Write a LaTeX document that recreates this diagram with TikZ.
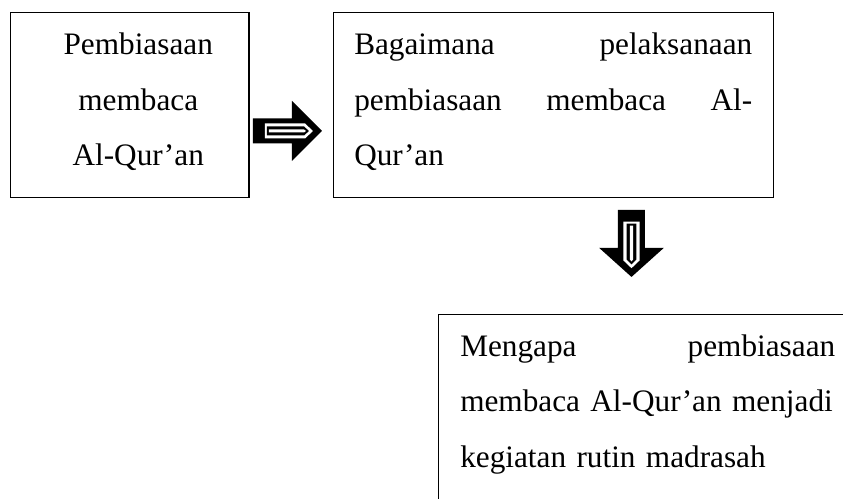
\documentclass[tikz,border=0pt]{standalone}
\usepackage{fontspec}
\setmainfont{Liberation Serif}
\usetikzlibrary{positioning}

\tikzset{
  box/.style={draw, line width=0.6pt, inner ysep=0pt, font=\fontsize{12.5}{22.2}\selectfont},
  hollow arrow/.pic={
    \fill[black] (0,-12.5) -- (39,-12.5) -- (39,-30) -- (69,0) -- (39,30) -- (39,12.5) -- (0,12.5) -- cycle;
    \fill[white] (12,-7.5) -- (52,-7.5) -- (60,0) -- (52,7.5) -- (12,7.5) -- cycle;
    \fill[black] (14,-4.5) -- (51,-4.5) -- (56,0) -- (51,4.5) -- (14,4.5) -- cycle;
    \fill[white] (16,-1.5) -- (51,-1.5) -- (53,0) -- (51,1.5) -- (16,1.5) -- cycle;
  }
}
\newcommand{\indentline}{\hspace*{6.8pt}}

\begin{document}
\begin{tikzpicture}[x=0.4pt,y=-0.4pt]
  \useasboundingbox (0,0) rectangle (843,499);
  \clip (0,0) rectangle (843,499);

  % the three boxes
  \node[box, anchor=north west, inner xsep=0pt, text width=95.2pt, align=center,
        text height=16.8pt, text depth=57.2pt] (habit) at (10,12)
    {\indentline Pembiasaan\\ \indentline membaca\\ \indentline Al-Qur’an};
  \node[box, right=33.2pt of habit, inner xsep=8.4pt, text width=159.2pt, align=left,
        text height=16.8pt, text depth=57.2pt] (how)
    {Bagaimana\hfill pelaksanaan\\ pembiasaan\hfill membaca\hfill Al-\\ Qur’an};
  \node[box, below right=46pt and 42pt of how.south west, inner xsep=8.8pt, text width=150pt, align=left,
        text height=16.8pt, text depth=80pt] (why)
    {Mengapa\hfill pembiasaan\\ membaca Al-Qur’an menjadi\\ kegiatan rutin madrasah};

  % block arrows
  \pic at (253,131) {hollow arrow};
  \pic[rotate=-90, yscale=1.08, xscale=0.97] at (631.5,210) {hollow arrow};
\end{tikzpicture}
\end{document}
